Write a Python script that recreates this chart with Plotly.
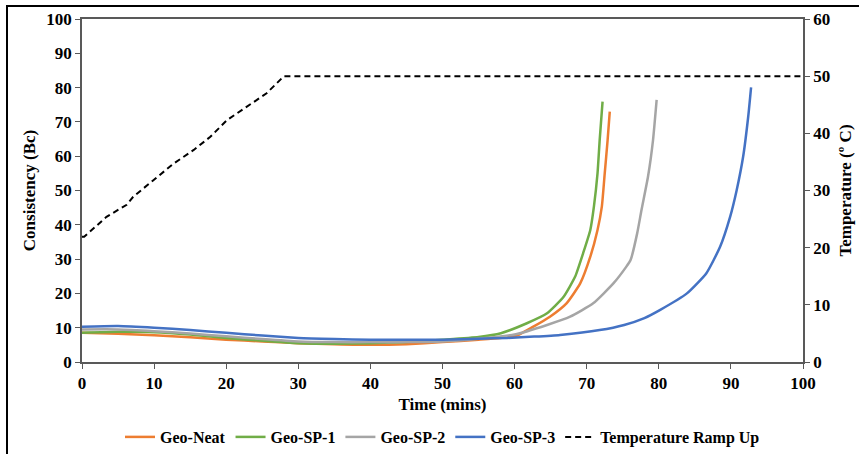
import plotly.graph_objects as go

# ---- data ----
time_neat = [0, 5, 10, 15, 20, 25, 30, 35, 40, 45, 50, 55, 58, 60.4, 62.6, 64.9, 67.2, 69.1, 70.5, 71.5, 72.1, 72.5, 72.9, 73.2]
geo_neat = [8.5, 8.2, 7.8, 7.2, 6.5, 6.0, 5.5, 5.2, 5.0, 5.2, 5.8, 6.5, 7.0, 7.8, 10.3, 13.2, 17.1, 22.9, 30.7, 38.5, 45.3, 55, 64.7, 73]

time_sp1 = [0, 5, 10, 15, 20, 25, 30, 35, 40, 45, 50, 55, 58.1, 61.7, 64.5, 66.8, 68.4, 69.5, 70.5, 71.0, 71.5, 71.8, 72.2]
geo_sp1 = [8.5, 8.8, 8.7, 8.0, 7.0, 6.2, 5.5, 5.3, 5.5, 5.8, 6.5, 7.3, 8.4, 11.3, 14.2, 19.0, 24.9, 31.7, 38.5, 45.3, 55, 64.7, 75.9]

time_sp2 = [0, 5, 10, 15, 20, 25, 30, 35, 40, 45, 50, 55, 60, 64.5, 67.7, 70.9, 73.7, 75.5, 76.1, 77.0, 77.6, 78.5, 79.2, 79.7]
geo_sp2 = [9.5, 9.5, 9.0, 8.3, 7.5, 6.7, 6.0, 5.8, 5.8, 5.8, 6.0, 6.8, 8.0, 10.8, 13.2, 17.1, 22.9, 27.8, 29.8, 37.5, 44.3, 54, 64.7, 76.4]

time_sp3 = [0, 5, 10, 15, 20, 25, 30, 35, 40, 45, 50, 55, 59, 62.7, 66.3, 71.8, 75.2, 78.0, 80.2, 83.9, 86.6, 88.5, 89.9, 90.8, 91.7, 92.4, 92.8]
geo_sp3 = [10.3, 10.5, 10.0, 9.3, 8.5, 7.7, 7.0, 6.7, 6.5, 6.5, 6.5, 6.8, 7.0, 7.4, 7.9, 9.3, 10.8, 12.8, 15.2, 20.0, 25.9, 33.6, 42.4, 50.1, 59.9, 71.5, 80.1]

time_temp = [0, 0.3, 1.1, 3.4, 6.2, 7.1, 9.9, 12.7, 15.5, 17.8, 20.1, 22.9, 25.6, 28, 100]
temp_ramp = [21.9, 21.9, 22.8, 25.4, 27.5, 28.9, 31.8, 34.7, 37.1, 39.4, 42.3, 44.7, 47.0, 50, 50]

FONT = "Liberation Serif"
AX = "#595959"

fig = go.Figure()
series = [
    ("Geo-Neat", time_neat, geo_neat, "#ED7D31"),
    ("Geo-SP-1", time_sp1, geo_sp1, "#70AD47"),
    ("Geo-SP-2", time_sp2, geo_sp2, "#A5A5A5"),
    ("Geo-SP-3", time_sp3, geo_sp3, "#4472C4"),
]
for name, t, v, c in series:
    fig.add_trace(go.Scatter(x=t, y=v, name=name, mode="lines",
                             line=dict(color=c, width=2.5, shape="spline", smoothing=0.5)))
fig.add_trace(go.Scatter(x=time_temp, y=temp_ramp, name="Temperature Ramp Up",
                         mode="lines", yaxis="y2",
                         line=dict(color="black", width=2, dash="6px,4px")))

L, R, T, B = 82, 56, 19, 92
W, H = 859, 454
pw, ph = W - L - R, H - T - B

tickfont = dict(family=FONT, size=17, color="black", weight="bold")
titlefont = dict(family=FONT, size=17, color="black", weight="bold")

fig.update_layout(
    width=W, height=H,
    margin=dict(l=L, r=R, t=T, b=B, autoexpand=False),
    paper_bgcolor="white", plot_bgcolor="white",
    font=dict(family=FONT, color="black"),
    xaxis=dict(range=[0, 100], dtick=10, showgrid=False, zeroline=False,
               showline=True, linecolor=AX, linewidth=1.5, mirror=True,
               ticks="outside", ticklen=5, tickcolor=AX, automargin=False,
               tickfont=tickfont,
               title=dict(text="Time (mins)", font=titlefont, standoff=6)),
    yaxis=dict(range=[0, 100], dtick=10, showgrid=False, zeroline=False,
               showline=True, linecolor=AX, linewidth=1.5, automargin=False,
               ticks="outside", ticklen=5, tickcolor=AX,
               tickfont=tickfont,
               title=dict(text="Consistency (Bc)", font=titlefont, standoff=6)),
    yaxis2=dict(range=[0, 60], dtick=10, overlaying="y", side="right",
                showgrid=False, zeroline=False, automargin=False,
                showline=True, linecolor=AX, linewidth=1.5,
                ticks="outside", ticklen=5, tickcolor=AX,
                tickfont=tickfont,
                title=dict(text="Temperature (º C)", font=titlefont, standoff=10)),
    legend=dict(orientation="h", x=0.5, xanchor="center",
                y=(362 - 437) / ph, yanchor="middle",
                font=dict(family=FONT, size=16, color="black", weight="bold"),
                bgcolor="rgba(0,0,0,0)", traceorder="normal"),
    shapes=[dict(type="rect", xref="paper", yref="paper",
                 x0=(7 - L) / pw, x1=(875 - L) / pw,
                 y0=(362 - 470) / ph, y1=1 + (T - 6) / ph,
                 line=dict(color="black", width=2), layer="below")],
)

fig.write_html("out.html")
